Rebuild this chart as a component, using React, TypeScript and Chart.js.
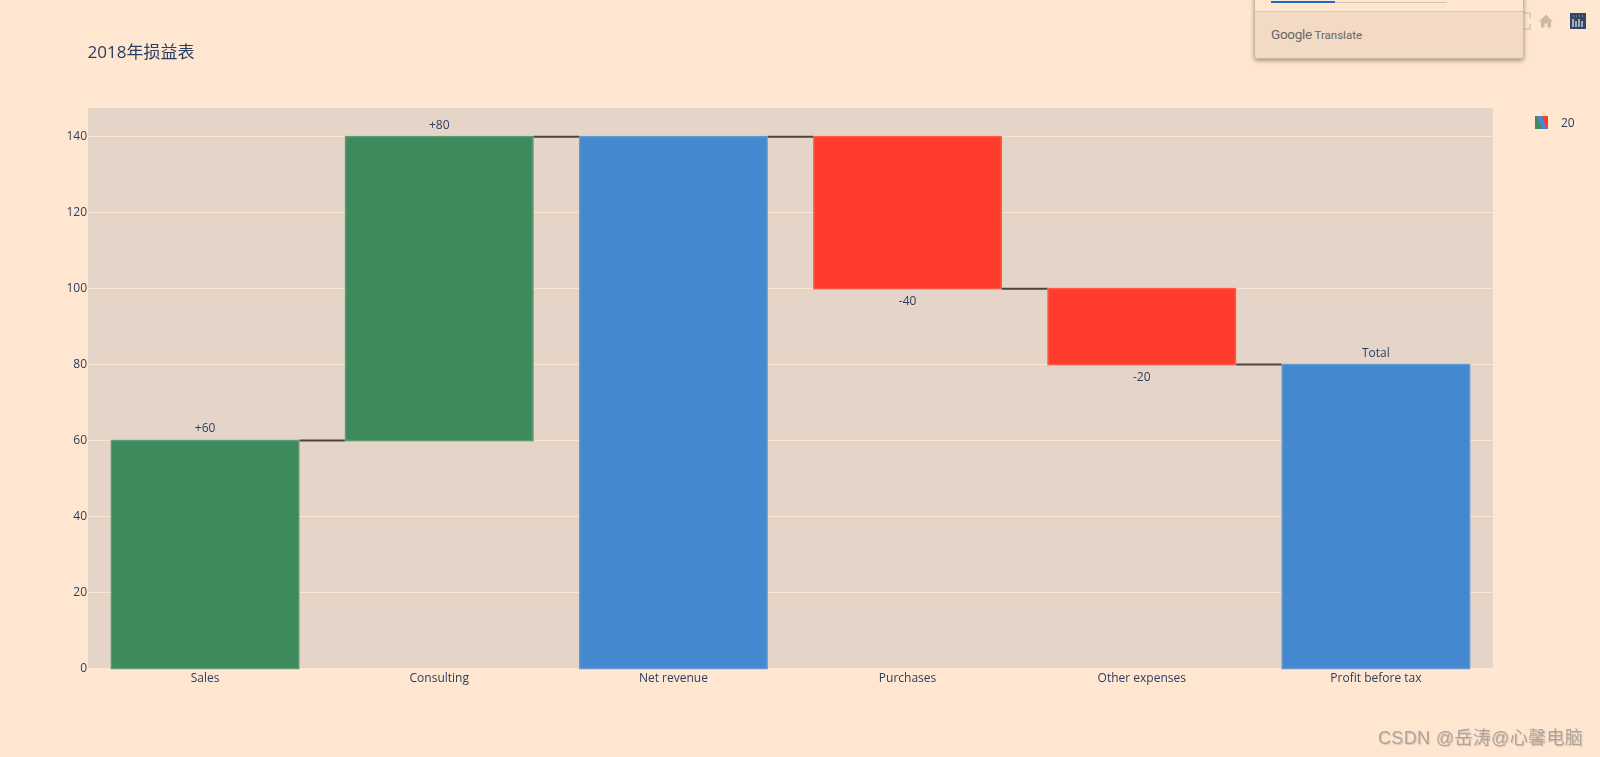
import React, { useEffect, useRef } from "react";
import { Chart, registerables } from "chart.js";

Chart.register(...registerables);

const categories = ["Sales", "Consulting", "Net revenue", "Purchases", "Other expenses", "Profit before tax"];
const barStarts = [0, 60, 0, 140, 100, 0];
const barEnds = [60, 140, 140, 100, 80, 80];
const barColors = ["#3D8B5C", "#3D8B5C", "#4488D0", "#FF3B2B", "#FF3B2B", "#4488D0"];
const barEdges = ["#5E9A72", "#5E9A72", "#6099D0", "#FF5A48", "#FF5A48", "#6099D0"];
const barTexts = ["+60", "+80", "", "-40", "-20", "Total"];
const connectorLevels = [60, 140, 140, 100, 80];
const yTicks = [0, 20, 40, 60, 80, 100, 120, 140];
const titleText = "2018年损益表";
const legendText = "20";
const watermarkText = "CSDN @岳涛@心馨电脑";

const FONT = '"Open Sans", "Noto Sans CJK SC", sans-serif';
const INK = "#2a3f5f";

const paintPlugin = {
  id: "paint",
  beforeDraw(chart: any) {
    const { ctx, chartArea: a } = chart;
    ctx.save();
    ctx.fillStyle = "#E5D5C8";
    ctx.fillRect(a.left, a.top, a.right - a.left, a.bottom - a.top);
    ctx.restore();
  },
  afterDatasetsDraw(chart: any) {
    const { ctx, scales } = chart;
    const bars = chart.getDatasetMeta(0).data;
    ctx.save();
    bars.forEach((b: any, i: number) => {
      const top = scales.y.getPixelForValue(Math.max(barStarts[i], barEnds[i]));
      const bottom = scales.y.getPixelForValue(Math.min(barStarts[i], barEnds[i]));
      ctx.strokeStyle = barEdges[i];
      ctx.lineWidth = 1.5;
      ctx.strokeRect(b.x - b.width / 2, top, b.width, bottom - top);
    });
    ctx.strokeStyle = "#4A4540";
    ctx.lineWidth = 2;
    connectorLevels.forEach((lvl, i) => {
      const y = scales.y.getPixelForValue(lvl);
      ctx.beginPath();
      ctx.moveTo(bars[i].x + bars[i].width / 2 + 0.75, y);
      ctx.lineTo(bars[i + 1].x - bars[i + 1].width / 2 - 0.75, y);
      ctx.stroke();
    });
    ctx.font = `12px ${FONT}`;
    ctx.fillStyle = INK;
    ctx.textAlign = "center";
    ctx.textBaseline = "middle";
    barTexts.forEach((t, i) => {
      if (!t) return;
      const down = barEnds[i] < barStarts[i];
      const y = scales.y.getPixelForValue(barEnds[i]) + (down ? 12.5 : -11.5);
      ctx.fillText(t, bars[i].x, y);
    });
    ctx.font = `17px ${FONT}`;
    ctx.textAlign = "left";
    ctx.fillText(titleText, 87.5, 53);
    ctx.restore();
  },
};

export default function App() {
  const ref = useRef<HTMLCanvasElement>(null);
  useEffect(() => {
    document.body.style.margin = "0";
    document.body.style.background = "#FFE6D0";
    const chart = new Chart(ref.current!, {
      type: "bar",
      data: {
        labels: categories,
        datasets: [
          {
            data: categories.map((_, i) => [barStarts[i], barEnds[i]]) as any,
            backgroundColor: barColors,
            borderWidth: 0,
            barPercentage: 0.8,
            categoryPercentage: 1,
          },
        ],
      },
      options: {
        responsive: false,
        animation: false,
        layout: { padding: { top: 108, right: 107, left: 0, bottom: 0 } },
        plugins: { legend: { display: false }, tooltip: { enabled: false } },
        scales: {
          x: {
            grid: { display: false },
            border: { display: false },
            ticks: { color: INK, font: { family: FONT, size: 12 }, padding: -5, maxRotation: 0 },
            afterFit(s: any) {
              s.height = 88.5;
            },
          },
          y: {
            min: 0,
            max: 147.55,
            afterBuildTicks(s: any) {
              s.ticks = yTicks.map((value) => ({ value }));
            },
            grid: { color: "#FFE6D0", lineWidth: 1, drawTicks: false },
            border: { display: false },
            ticks: { color: INK, font: { family: FONT, size: 12 }, padding: 1 },
            afterFit(s: any) {
              s.width = 88;
            },
          },
        },
      } as any,
      plugins: [paintPlugin],
    });
    return () => chart.destroy();
  }, []);

  return (
    <div style={{ position: "relative", width: 1600, height: 757, overflow: "hidden", background: "#FFE6D0" }}>
      <canvas ref={ref} width={1600} height={757} style={{ position: "absolute", left: 0, top: 0, display: "block" }} />

      {/* toolbox icons */}
      <svg width="100" height="30" style={{ position: "absolute", left: 1500, top: 6 }} viewBox="0 0 100 30">
        <path d="M24 7h6v5M30 18v5h-6" fill="none" stroke="#CDB9A8" strokeWidth="1.2" />
        <path d="M39 15.5l7-7 7 7h-2v6h-3.5v-4h-3v4H41v-6z" fill="#CDB9A8" />
        <rect x="70" y="7" width="16" height="16" fill="#374462" />
        <path d="M73 13v8M76 15v6M79 13v8M82 15v6" stroke="#E8EEF4" strokeWidth="1.2" />
        <path d="M73 10h10" stroke="#7FC8B0" strokeWidth="1.2" strokeDasharray="1 2" />
      </svg>

      {/* translate popup */}
      <div
        style={{
          position: "absolute",
          left: 1254,
          top: -11,
          width: 268,
          height: 68,
          background: "#FFE6D0",
          border: "1px solid #C9B7A8",
          borderRadius: 4,
          boxShadow: "0 2px 4px rgba(0,0,0,0.35)",
          overflow: "hidden",
        }}
      >
        <div style={{ position: "absolute", left: 16, top: 11, width: 64, height: 2, background: "#1A6CC8" }} />
        <div style={{ position: "absolute", left: 80, top: 12, width: 112, height: 1, background: "#D4C2B4" }} />
        <div
          style={{
            position: "absolute",
            left: 0,
            top: 21,
            right: 0,
            bottom: 0,
            background: "#F3DAC4",
            borderTop: "1px solid #DCC6B6",
          }}
        />
        <div
          style={{
            position: "absolute",
            left: 16,
            top: 35,
            fontFamily: "Roboto, sans-serif",
            fontSize: 11.5,
            lineHeight: "18px",
            color: "#666",
            whiteSpace: "nowrap",
          }}
        >
          <span style={{ fontSize: 13.5, letterSpacing: -0.3 }}>Google</span> Translate
        </div>
      </div>

      {/* legend */}
      <svg width="13" height="13" style={{ position: "absolute", left: 1535, top: 116 }} viewBox="0 0 13 13">
        <rect width="13" height="13" fill="#FF3B2B" />
        <polygon points="0,0 1.5,0 7,13 0,13" fill="#3D8B5C" />
        <polygon points="1.5,0 7,0 12,13 7,13" fill="#4488D0" />
      </svg>
      <div
        style={{
          position: "absolute",
          left: 1561,
          top: 114,
          fontFamily: FONT,
          fontSize: 12,
          lineHeight: "17px",
          color: INK,
        }}
      >
        {legendText}
      </div>

      {/* watermark */}
      <div
        style={{
          position: "absolute",
          left: 1378,
          top: 726,
          fontFamily: '"Liberation Sans", "Noto Sans CJK SC", sans-serif',
          fontSize: 18,
          letterSpacing: 0.35,
          lineHeight: "24px",
          color: "#B0A59C",
          textShadow: "1px 1px 1px rgba(0,0,0,0.15)",
          whiteSpace: "nowrap",
        }}
      >
        {watermarkText}
      </div>
    </div>
  );
}
